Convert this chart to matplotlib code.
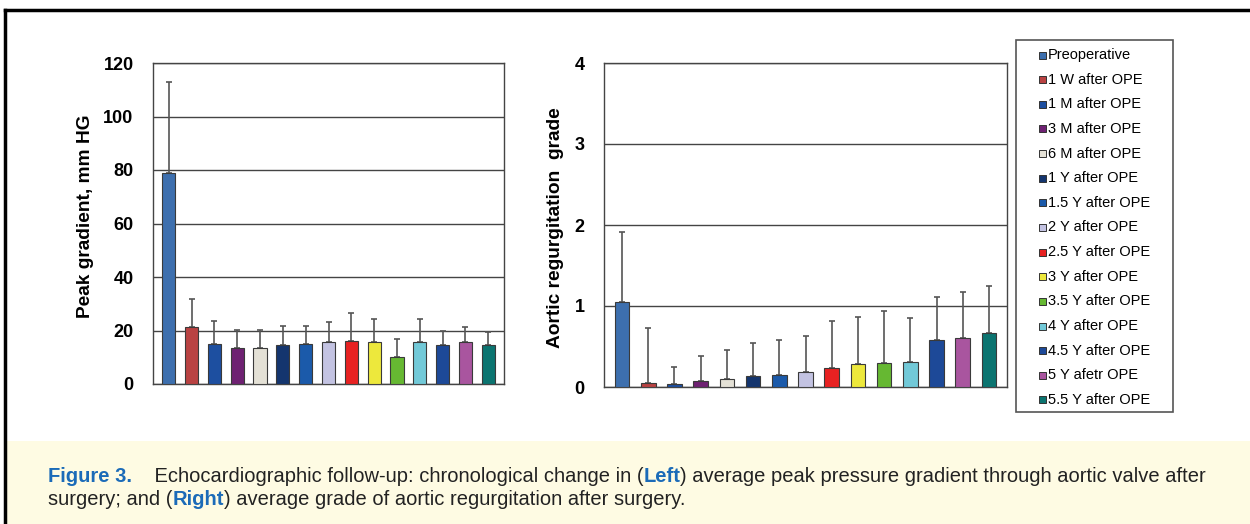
import matplotlib.pyplot as plt
import numpy as np
from matplotlib.patches import Rectangle
plt.switch_backend('agg')

plt.rcParams['font.family'] = ['Liberation Sans', 'DejaVu Sans']

# Data
labels = ['Preoperative', '1 W after OPE', '1 M after OPE', '3 M after OPE', '6 M after OPE',
          '1 Y after OPE', '1.5 Y after OPE', '2 Y after OPE', '2.5 Y after OPE', '3 Y after OPE',
          '3.5 Y after OPE', '4 Y after OPE', '4.5 Y after OPE', '5 Y afetr OPE', '5.5 Y after OPE']
colors = ['#3d6fae', '#b94242', '#1d4fa0', '#6e2172', '#e4e1d6', '#14356e', '#1b5aaa', '#c3c3e2',
          '#e82222', '#ede83c', '#66b832', '#72c9d8', '#1d4998', '#a9559f', '#0b7470']

peak_mean = [78.8, 21.2, 15.0, 13.6, 13.6, 14.5, 15.0, 15.6, 16.1, 15.7, 10.1, 15.6, 14.7, 15.6, 14.5]
peak_sd = [34.0, 10.5, 8.7, 6.6, 6.6, 7.2, 6.7, 7.4, 10.6, 8.5, 6.6, 8.8, 5.0, 5.6, 5.0]

ar_mean = [1.05, 0.05, 0.04, 0.07, 0.095, 0.14, 0.145, 0.18, 0.23, 0.28, 0.30, 0.31, 0.58, 0.60, 0.67]
ar_sd = [0.86, 0.68, 0.21, 0.31, 0.365, 0.40, 0.435, 0.45, 0.58, 0.59, 0.64, 0.54, 0.53, 0.57, 0.58]

W, H = 1250, 524
def fx(x):
    return x / W
def fy(y):
    return 1 - y / H

fig = plt.figure(figsize=(12.5, 5.24), dpi=100)

# background panels and border
fig.patches.append(Rectangle((fx(7), 0), 1, fy(441), transform=fig.transFigure,
                             facecolor='#fefbe3', edgecolor='none', zorder=0))
fig.add_artist(plt.Line2D([fx(5), 1], [fy(10), fy(10)], color='black', lw=2.5, transform=fig.transFigure))
fig.add_artist(plt.Line2D([fx(5), fx(5)], [fy(10), 0], color='black', lw=2.5, transform=fig.transFigure))

x = np.arange(len(labels))

def draw(ax, mean, sd, ymax, step, width):
    ax.bar(x, mean, width=width, color=colors, edgecolor='#3a3a3a', linewidth=0.8, zorder=3)
    ax.errorbar(x, mean, yerr=[np.zeros(len(mean)), sd], fmt='none', ecolor='#555555',
                elinewidth=1.2, capsize=2.5, capthick=1.2, zorder=2)
    ax.set_xlim(-0.69, 14.69)
    ax.set_ylim(0, ymax)
    ax.set_yticks(np.arange(0, ymax + step / 2, step))
    ax.set_xticks([])
    ax.yaxis.grid(True, color='#444444', linewidth=1, zorder=1)
    ax.set_axisbelow(True)
    ax.tick_params(axis='y', length=0, pad=14, labelsize=13)
    for lab in ax.get_yticklabels():
        lab.set_fontweight('bold')
    for s in ax.spines.values():
        s.set_color('#444444')
        s.set_linewidth(1)

ax1 = fig.add_axes([fx(153), fy(384), fx(504) - fx(153), fy(63) - fy(384)])
draw(ax1, peak_mean, peak_sd, 120, 20, 0.58)
ax2 = fig.add_axes([fx(604), fy(387), fx(1007) - fx(604), fy(63) - fy(387)])
draw(ax2, ar_mean, ar_sd, 4, 1, 0.56)

fig.text(fx(85), fy(216), 'Peak gradient, mm HG', rotation=90, ha='center', va='center',
         fontsize=13.8, fontweight='bold')
fig.text(fx(556), fy(228), 'Aortic regurgitation  grade', rotation=90, ha='center', va='center',
         fontsize=13.8, fontweight='bold')

# legend box drawn by hand
fig.patches.append(Rectangle((fx(1016), fy(412)), fx(1173) - fx(1016), fy(40) - fy(412),
                             transform=fig.transFigure, facecolor='white', edgecolor='#555555', lw=1.2))
for i, (lab, c) in enumerate(zip(labels, colors)):
    yc = 55 + i * 24.64
    fig.patches.append(Rectangle((fx(1039), fy(yc + 3.5)), fx(7), 7 / H, transform=fig.transFigure,
                                 facecolor=c, edgecolor='#333333', lw=0.7))
    fig.text(fx(1048), fy(yc), lab, ha='left', va='center', fontsize=10.5)

# caption with mixed styles
blue = '#1b6bb8'
renderer = fig.canvas.get_renderer()
def write_line(pieces, x0, y0):
    xp = x0
    for txt, style in pieces:
        if style == 'fig':
            kw = dict(color=blue, fontweight='bold', family=['Liberation Sans Narrow', 'Liberation Sans'])
        elif style == 'b':
            kw = dict(color=blue, fontweight='bold')
        else:
            kw = dict(color='#222222')
        t = fig.text(fx(xp), fy(y0), txt, ha='left', va='baseline', fontsize=14.5, **kw)
        xp += t.get_window_extent(renderer).width

write_line([('Figure 3.', 'fig'),
            ('    Echocardiographic follow-up: chronological change in (', 'n'),
            ('Left', 'b'),
            (') average peak pressure gradient through aortic valve after', 'n')], 48, 482)
write_line([('surgery; and (', 'n'), ('Right', 'b'),
            (') average grade of aortic regurgitation after surgery.', 'n')], 48, 505)

plt.savefig('out.png', dpi=100)
